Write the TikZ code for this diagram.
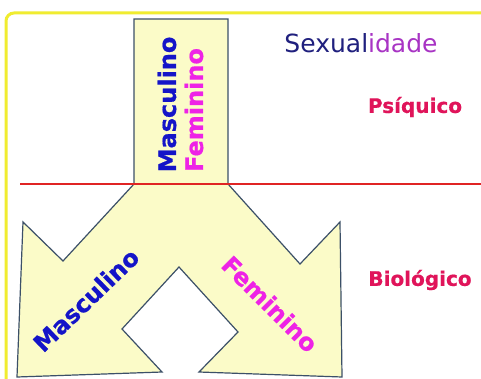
\documentclass[tikz,border=0pt]{standalone}
\usepackage{fontspec}
\setmainfont{DejaVu Sans}
\newfontfamily\heavy[FakeBold=0.6]{DejaVu Sans Bold}
\definecolor{frameyellow}{HTML}{F0EC30}
\definecolor{shapefill}{HTML}{FBFBC8}
\definecolor{shapeline}{HTML}{3C5068}
\definecolor{sepred}{HTML}{E02424}
\definecolor{masc}{HTML}{1414C8}
\definecolor{fem}{HTML}{EE22E6}
\definecolor{navy}{HTML}{20207E}
\definecolor{purp}{HTML}{A834C4}
\definecolor{crim}{HTML}{E0145A}
\tikzset{
  lbl/.style={inner sep=0pt, font=\fontsize{24}{24}\selectfont\heavy},
  side/.style={inner sep=0pt, text=crim, font=\fontsize{20}{20}\selectfont\heavy},
}
\begin{document}
\begin{tikzpicture}[x=1pt,y=-1pt]
\useasboundingbox (0,0) rectangle (481,379);
\fill[white] (0,0) rectangle (481,379);
\clip (0,0) rectangle (481,379);
\draw[frameyellow, line width=3pt, rounded corners=8pt] (6,13) rectangle (520,420);
% shape
\coordinate (A) at (134,19);
\coordinate (B) at (228,19);
\coordinate (C) at (228,184);
\coordinate (O) at (300,264);
\coordinate (N) at (340,222);
\coordinate (M) at (342,377);
\coordinate (L) at (199,372);
\coordinate (K) at (238,332);
\coordinate (J) at (179,267);
\coordinate (I) at (122,329);
\coordinate (H) at (162,372);
\coordinate (G) at (17,377);
\coordinate (F) at (23,222);
\coordinate (E) at (63,261);
\coordinate (D) at (134,184);
\draw[shapeline, fill=shapefill, line width=1.2pt, line join=miter]
  (A) -- (B) -- (C) -- (O) -- (N) -- (M) -- (L) -- (K) -- (J) -- (I) -- (H) -- (G) -- (F) -- (E) -- (D) -- cycle;
% separator
\coordinate (r1) at (20,184);
\coordinate (r2) at (481,184);
\draw[sepred, line width=1.3pt] (r1) -- (r2);
% texts
\node[inner sep=0pt, font=\fontsize{25}{25}\selectfont] (title) at (361,43)
  {\textcolor{navy}{Sexual}\textcolor{purp}{idade}};
\node[side] (psi) at (415,107) {Psíquico};
\node[side] (bio) at (420,280) {Biológico};
\node[lbl, text=masc, rotate=90] (m1) at (167,104.5) {Masculino};
\node[lbl, text=fem, rotate=90] (f1) at (194,110) {Feminino};
\node[lbl, text=masc, rotate=44] (m2) at (86,300) {Masculino};
\node[lbl, text=fem, rotate=-45] (f2) at (270,304) {Feminino};
\end{tikzpicture}
\end{document}
